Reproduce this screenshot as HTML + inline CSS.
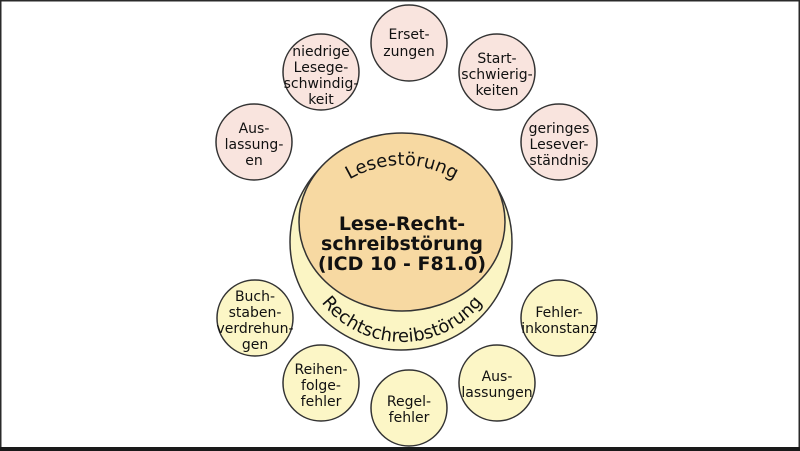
<!DOCTYPE html>
<html><head><meta charset="utf-8"><style>
html,body{margin:0;padding:0;background:#fff}
svg{display:block}
text{font-family:"DejaVu Sans","Liberation Sans",sans-serif;fill:#111}
</style></head><body>
<svg width="800" height="451" viewBox="0 0 800 451" xmlns="http://www.w3.org/2000/svg">
<rect x="0" y="0" width="800" height="451" fill="#fff"/>
<rect x="0.5" y="0.5" width="799" height="449" fill="none" stroke="#2a2a2a" stroke-width="2"/>
<rect x="0" y="447" width="800" height="4" fill="#1a1a1a"/>
<defs>
<path id="top" d="M 282 310 A 120 145 0 0 1 522 310"/>
<path id="bot" d="M 300 240 A 102 102 0 0 0 504 240"/>
</defs>
<g stroke="#333" stroke-width="1.5">
<ellipse cx="401" cy="242" rx="111" ry="108" fill="#fbf5c4"/>
<ellipse cx="402" cy="222" rx="103" ry="89" fill="#f7d9a2"/>
<g fill="#f9e4de">
<circle cx="409" cy="43" r="38"/>
<circle cx="321" cy="72" r="38"/>
<circle cx="497" cy="72" r="38"/>
<circle cx="254" cy="142" r="38"/>
<circle cx="559" cy="142" r="38"/>
</g>
<g fill="#fcf6c6">
<circle cx="255" cy="318" r="38"/>
<circle cx="559" cy="318" r="38"/>
<circle cx="321" cy="383" r="38"/>
<circle cx="497" cy="383" r="38"/>
<circle cx="409" cy="408" r="38"/>
</g>
</g>
<text font-size="18"><textPath href="#top" startOffset="50%" text-anchor="middle">Lesestörung</textPath></text>
<text font-size="18"><textPath href="#bot" startOffset="50%" text-anchor="middle">Rechtschreibstörung</textPath></text>
<g font-size="19" font-weight="bold" text-anchor="middle">
<text x="402" y="230">Lese-Recht-</text>
<text x="402" y="250">schreibstörung</text>
<text x="402" y="270">(ICD 10 - F81.0)</text>
</g>
<g font-size="14" text-anchor="middle">
<text x="409" y="39">Erset-</text><text x="409" y="56">zungen</text>
<text x="321" y="56">niedrige</text><text x="321" y="72">Lesege-</text><text x="321" y="88">schwindig-</text><text x="321" y="104">keit</text>
<text x="497" y="63">Start-</text><text x="497" y="79">schwierig-</text><text x="497" y="95">keiten</text>
<text x="254" y="133">Aus-</text><text x="254" y="149">lassung-</text><text x="254" y="165">en</text>
<text x="559" y="133">geringes</text><text x="559" y="149">Lesever-</text><text x="559" y="165">ständnis</text>
<text x="255" y="301">Buch-</text><text x="255" y="317">staben-</text><text x="255" y="333">verdrehun-</text><text x="255" y="349">gen</text>
<text x="559" y="317">Fehler-</text><text x="559" y="333">inkonstanz</text>
<text x="321" y="374">Reihen-</text><text x="321" y="390">folge-</text><text x="321" y="406">fehler</text>
<text x="497" y="381">Aus-</text><text x="497" y="397">lassungen</text>
<text x="409" y="406">Regel-</text><text x="409" y="422">fehler</text>
</g>
</svg>
</body></html>
